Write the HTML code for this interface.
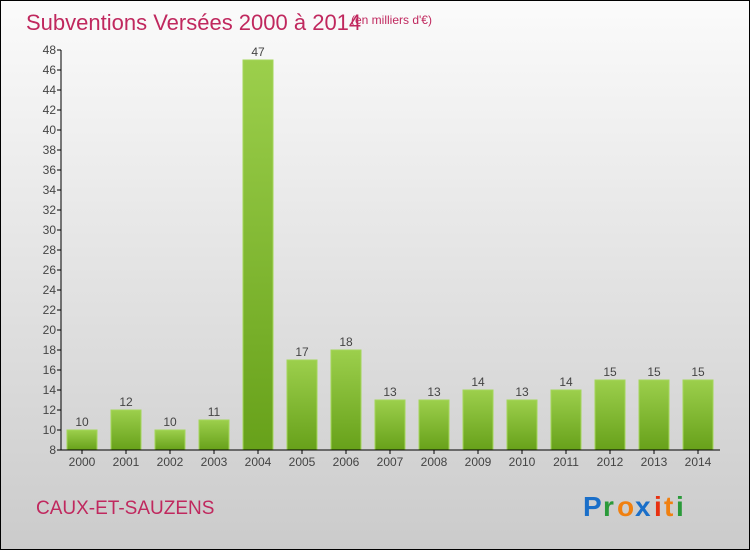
<!DOCTYPE html>
<html><head><meta charset="utf-8"><style>
body{margin:0}
svg text{font-family:"Liberation Sans",sans-serif}
</style></head><body>
<svg width="750" height="550" xmlns="http://www.w3.org/2000/svg">
<defs>
<linearGradient id="bg" x1="0" y1="0" x2="0" y2="1"><stop offset="0" stop-color="#fbfbfb"/><stop offset="1" stop-color="#cbcbcb"/></linearGradient>
<linearGradient id="bar" x1="0" y1="0" x2="0" y2="1"><stop offset="0" stop-color="#9ccf4c"/><stop offset="1" stop-color="#67a11a"/></linearGradient>
</defs>
<rect x="0.5" y="0.5" width="749" height="549" fill="url(#bg)" stroke="#000"/>
<text x="26" y="30" font-size="22" fill="#c0285e">Subventions Versées 2000 à 2014</text>
<text x="351" y="24" font-size="12" fill="#c0285e">(en milliers d'€)</text>
<g id="ticks"></g>
<g id="bars"></g>
<line x1="61" y1="50" x2="61" y2="450" stroke="#000"/>
<line x1="61" y1="450" x2="720" y2="450" stroke="#000"/>
<text x="36" y="514" font-size="19" fill="#c0285e">CAUX-ET-SAUZENS</text>
<g font-size="28" font-weight="bold">
<text x="583" y="516" fill="#1a6fc9">P</text><text x="603" y="516" fill="#2a9a3a">r</text><text x="617" y="516" fill="#f08010">o</text><text x="635" y="516" fill="#1a6fc9">x</text><text x="654" y="516" fill="#e83010">i</text><text x="664" y="516" fill="#f08010">t</text><text x="676" y="516" fill="#2a9a3a">i</text>
</g>
</svg>
<script>
const categories=["2000","2001","2002","2003","2004","2005","2006","2007","2008","2009","2010","2011","2012","2013","2014"];
const values=[10,12,10,11,47,17,18,13,13,14,13,14,15,15,15];
const yTicks=[8,10,12,14,16,18,20,22,24,26,28,30,32,34,36,38,40,42,44,46,48];
const NS="http://www.w3.org/2000/svg";
const y=v=>450-(v-8)*10;
const x=i=>82+i*44;
function mk(t,a,p){const e=document.createElementNS(NS,t);for(const k in a)e.setAttribute(k,a[k]);p.appendChild(e);return e;}
const tg=document.getElementById('ticks'),bg=document.getElementById('bars');
yTicks.forEach(v=>{
 const l=mk('line',{x1:57,x2:61,y1:y(v),y2:y(v),stroke:'#000'},tg);
 
 
 const t=mk('text',{x:56,y:y(v)+4,'font-size':12,fill:'#444','text-anchor':'end'},tg);t.textContent=v;
 
 
});
categories.forEach((c,i)=>{
 const r=mk('rect',{x:x(i)-15,y:y(values[i]),width:30,height:450-y(values[i]),fill:'url(#bar)',stroke:'#a4d65a','stroke-width':1},bg);
 
 
 const t=mk('text',{x:x(i),y:y(values[i])-4,'font-size':12,fill:'#444','text-anchor':'middle'},bg);t.textContent=values[i];
 
 
 const k=mk('line',{x1:x(i),x2:x(i),y1:450,y2:454,stroke:'#000'},bg);
 
 
 const xl=mk('text',{x:x(i),y:466,'font-size':12,fill:'#444','text-anchor':'middle'},bg);xl.textContent=c;
 
 
});
</script>
</body></html>
